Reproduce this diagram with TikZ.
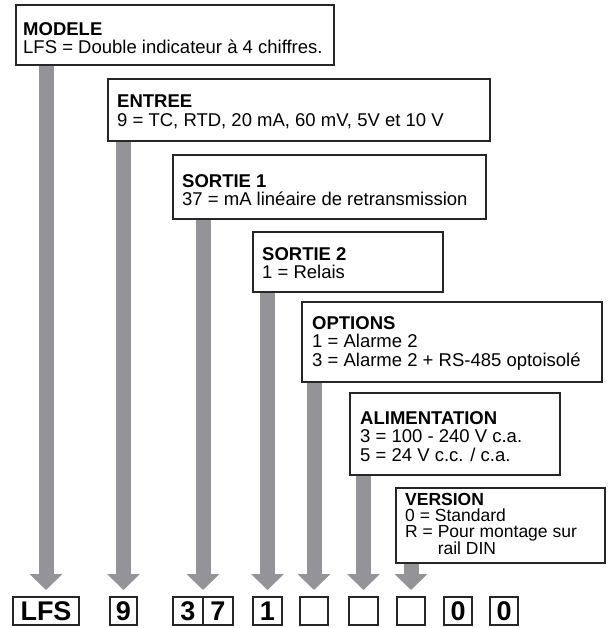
\documentclass[tikz,border=0pt]{standalone}
\usepackage{fontspec}
\setmainfont{Liberation Sans}
\usepackage{tikz}
\usetikzlibrary{arrows.meta,positioning}
\definecolor{stemgray}{RGB}{148,148,152}
\tikzstyle{infobox}=[draw=black!85,line width=1.2pt,fill=white,anchor=north west,inner sep=0pt,outer sep=0pt]
\tikzstyle{infotext}=[inner sep=0pt,align=left,font=\fontsize{18.5}{18.5}\selectfont]
\tikzstyle{codebox}=[draw=black!85,line width=1.5pt,fill=white,anchor=north west,minimum width=28pt,minimum height=28pt,inner sep=0pt,outer sep=0pt,font=\fontsize{27}{27}\selectfont\bfseries]
\tikzstyle{codearrow}=[draw=stemgray,line width=15pt,-{Triangle[length=16pt,width=32pt]},shorten >=7pt,shorten <=1pt]

\begin{document}
\begin{tikzpicture}[x=1pt,y=-1pt]
  \path[use as bounding box,fill=white] (0,0) rectangle (610,628);

  % description boxes
  \node[infobox,minimum width=318pt,minimum height=60pt] at (16,5) (modele) {};
  \node[infotext,below right=17pt and 7pt of modele.north west] (modeletxt)
    {\textbf{MODELE}\\LFS = Double indicateur à 4 chiffres.};
  \node[infobox,minimum width=382pt,minimum height=62pt] at (108,79) (entree) {};
  \node[infotext,below right=16pt and 9pt of entree.north west] (entreetxt)
    {\textbf{ENTREE}\\9 = TC, RTD, 20 mA, 60 mV, 5V et 10 V};
  \node[infobox,minimum width=313pt,minimum height=64pt] at (173,155) (sortieA) {};
  \node[infotext,below right=19pt and 9pt of sortieA.north west] (sortieAtxt)
    {\textbf{SORTIE 1}\\37 = mA linéaire de retransmission};
  \node[infobox,minimum width=190pt,minimum height=60pt] at (253,232) (sortieB) {};
  \node[infotext,below right=15pt and 9pt of sortieB.north west] (sortieBtxt)
    {\textbf{SORTIE 2}\\1 = Relais};
  \node[infobox,minimum width=300pt,minimum height=80pt] at (302,302) (options) {};
  \node[infotext,below right=14pt and 10pt of options.north west] (optionstxt)
    {\textbf{OPTIONS}\\1 = Alarme 2\\3 = Alarme 2 + RS-485 optoisolé};
  \node[infobox,minimum width=210pt,minimum height=82pt] at (350,393) (alim) {};
  \node[infotext,below right=18pt and 10pt of alim.north west] (alimtxt)
    {\textbf{ALIMENTATION}\\3 = 100 - 240 V c.a.\\5 = 24 V c.c. / c.a.};
  \node[infobox,minimum width=209pt,minimum height=75pt] at (396,488) (version) {};
  \node[infotext,font=\fontsize{17.5}{16}\selectfont,below right=5pt and 9pt of version.north west] (versiontxt)
    {\textbf{VERSION}\\0 = Standard\\R = Pour montage sur\\\phantom{R = }rail DIN};

  % code boxes
  \node[codebox,minimum width=66pt] at (13,597) (lfs) {LFS};
  \node[codebox,minimum width=27pt] at (110,597) (c9) {9};
  \node[codebox,minimum width=30pt] at (173,597) (c3) {3};
  \node[codebox,minimum width=30pt,right=0pt of c3] (c7) {7};
  \node[codebox,minimum width=29pt] at (253,597) (c1) {1};
  \node[codebox] at (300,597) (ea) {};
  \node[codebox,minimum width=29pt] at (349,597) (eb) {};
  \node[codebox] at (397,597) (ec) {};
  \node[codebox] at (444,597) (za) {0};
  \node[codebox] at (490,597) (zb) {0};

  % arrows
  \draw[codearrow] (lfs.north |- modele.south) -- (lfs.north);
  \draw[codearrow] (c9.north |- entree.south) -- (c9.north);
  \draw[codearrow] (c3.north east |- sortieA.south) -- (c3.north east);
  \draw[codearrow] (c1.north |- sortieB.south) -- (c1.north);
  \draw[codearrow] (ea.north |- options.south) -- (ea.north);
  \draw[codearrow] (eb.north |- alim.south) -- (eb.north);
  \draw[codearrow] (ec.north |- version.south) -- (ec.north);
\end{tikzpicture}
\end{document}
